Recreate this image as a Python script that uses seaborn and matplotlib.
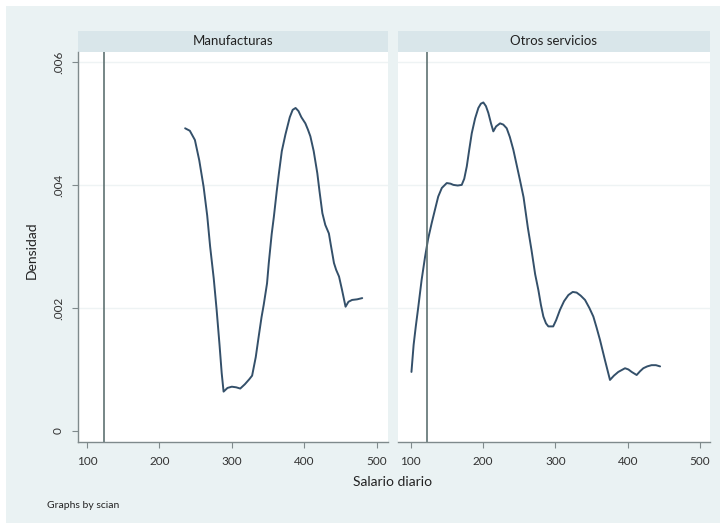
import numpy as np
import pandas as pd
import matplotlib.pyplot as plt
from matplotlib.patches import Rectangle
import seaborn as sns

# density curves (salario diario vs densidad)
manuf_x = [235.5, 242, 249, 255, 261, 266, 270, 275, 279, 283, 286, 288.6, 294, 300, 306,
           311.6, 318, 324, 328, 333, 337, 341, 344, 348.6, 351, 355, 358, 362, 365, 369,
           374, 380, 384, 388, 392, 396, 401.5, 405, 408.4, 413, 418, 421, 425, 429, 434,
           437, 441, 444, 448, 452, 457, 461, 466, 473, 480]
manuf_y = [0.00492, 0.00488, 0.00473, 0.00440, 0.00397, 0.00350, 0.00300, 0.00248, 0.00197,
           0.00140, 0.00094, 0.00064, 0.00070, 0.00072, 0.00071, 0.00069, 0.00076, 0.00084,
           0.00090, 0.00120, 0.00153, 0.00185, 0.00205, 0.00240, 0.00273, 0.00320, 0.00348,
           0.00390, 0.00419, 0.00455, 0.00482, 0.00510, 0.00522, 0.00525, 0.00520, 0.00510,
           0.00500, 0.00490, 0.00479, 0.00455, 0.00419, 0.00390, 0.00354, 0.00335, 0.00321,
           0.00300, 0.00273, 0.00262, 0.00251, 0.00230, 0.00202, 0.00210, 0.00213, 0.00214,
           0.00216]

otros_x = [101, 104, 107, 110.5, 115, 119.8, 124, 129, 134, 138, 143, 149.8, 155, 159, 165,
           170.5, 174, 177.5, 181, 184.4, 189, 193.5, 197, 200.4, 204, 207.3, 211, 214.2, 218,
           223.5, 228, 232.7, 237, 241.9, 246, 251, 256, 262, 267, 272, 276.5, 280, 283.4,
           287, 290.3, 297, 301, 306.4, 312, 318, 324, 329.4, 335, 341, 347, 352.5, 357,
           361.7, 368.6, 375.5, 381, 387, 396.3, 401, 405.5, 412.4, 417, 421.6, 427, 433,
           439, 444.8]
otros_y = [0.00096, 0.00140, 0.00170, 0.00202, 0.00245, 0.00283, 0.00312, 0.00338, 0.00362,
           0.00381, 0.00395, 0.00403, 0.00402, 0.00400, 0.00399, 0.00400, 0.00410, 0.00430,
           0.00458, 0.00484, 0.00508, 0.00525, 0.00532, 0.00534, 0.00528, 0.00517, 0.00500,
           0.00487, 0.00495, 0.00500, 0.00498, 0.00492, 0.00478, 0.00457, 0.00435, 0.00408,
           0.00380, 0.00330, 0.00294, 0.00255, 0.00229, 0.00205, 0.00186, 0.00175, 0.00170,
           0.00170, 0.00180, 0.00197, 0.00211, 0.00221, 0.00226, 0.00225, 0.00220, 0.00213,
           0.00200, 0.00186, 0.00168, 0.00148, 0.00115, 0.00083, 0.00090, 0.00096, 0.00102,
           0.00100, 0.00096, 0.00091, 0.00097, 0.00102, 0.00105, 0.00107, 0.00107, 0.00105]

panels = ["Manufacturas", "Otros servicios"]
ref_line = 123
x_ticks = [100, 200, 300, 400, 500]
y_ticks = [0, 0.002, 0.004, 0.006]
y_labels = ["0", ".002", ".004", ".006"]

df = pd.concat([
    pd.DataFrame({"salario": manuf_x, "densidad": manuf_y, "scian": panels[0]}),
    pd.DataFrame({"salario": otros_x, "densidad": otros_y, "scian": panels[1]}),
])

sns.set_theme(style="white")
plt.rcParams["font.family"] = ["Lato", "DejaVu Sans"]

bg = "#EAF2F3"
strip_col = "#D9E6EA"
line_col = "#34506A"
axis_col = "#7F8A8C"

fig = plt.figure(figsize=(7.26, 5.29), dpi=100)
fig.patch.set_facecolor("white")
fig.add_artist(Rectangle((6 / 726, 6 / 529), 714 / 726, 517 / 529,
                         transform=fig.transFigure, facecolor=bg, edgecolor="none", zorder=0))

bottom = 1 - 441.7 / 529
height = (441.7 - 52) / 529
axes = [fig.add_axes([78 / 726, bottom, 310 / 726, height]),
        fig.add_axes([398 / 726, bottom, 312 / 726, height])]
xlims = [(87.6, 515.6), (82.4, 513.8)]

for i, (ax, name) in enumerate(zip(axes, panels)):
    sub = df[df["scian"] == name]
    ax.set_facecolor("white")
    for yv in y_ticks[1:]:
        ax.axhline(yv, color="#EEF3F4", lw=1, zorder=0)
    sns.lineplot(data=sub, x="salario", y="densidad", ax=ax, color=line_col, lw=1.4,
                 estimator=None, sort=False)
    ax.axvline(ref_line, color="#5F7272", lw=1.2)
    ax.set_xlim(*xlims[i])
    ax.set_ylim(-0.000174, 0.00616)
    ax.set_xticks(x_ticks)
    ax.set_xticklabels([str(v) for v in x_ticks], fontsize=8.5, color="#333333")
    ax.set_yticks(y_ticks)
    ax.set_xlabel("")
    ax.set_ylabel("")
    ax.tick_params(axis="x", bottom=True, length=4, width=0.8, color=axis_col, pad=6)
    for sp in ["top", "right"]:
        ax.spines[sp].set_visible(False)
    ax.spines["bottom"].set_color(axis_col)
    ax.spines["bottom"].set_linewidth(1.0)
    if i == 0:
        ax.set_yticklabels(y_labels, fontsize=8.5, color="#333333", rotation=90, va="center")
        ax.tick_params(axis="y", left=True, length=4, width=0.8, color=axis_col, pad=6)
        ax.spines["left"].set_color(axis_col)
        ax.spines["left"].set_linewidth(1.0)
    else:
        ax.set_yticklabels([])
        ax.tick_params(axis="y", left=False)
        ax.spines["left"].set_visible(False)
    # strip header
    ax.add_patch(Rectangle((0, 1), 1, 21 / 389.7, transform=ax.transAxes, facecolor=strip_col,
                           edgecolor="none", clip_on=False))
    ax.text(0.5, 1 + 10.5 / 389.7, name, transform=ax.transAxes, ha="center", va="center",
            fontsize=9.5, color="#222222")

fig.text(32 / 726, 1 - 250 / 529, "Densidad", rotation=90, ha="center", va="center",
         fontsize=10, color="#222222")
fig.text(393 / 726, 1 - 482 / 529, "Salario diario", ha="center", va="center",
         fontsize=10, color="#222222")
fig.text(47 / 726, 1 - 505 / 529, "Graphs by scian", ha="left", va="center",
         fontsize=7.5, color="#222222")

fig.savefig("out.png", dpi=100, facecolor=fig.get_facecolor())
